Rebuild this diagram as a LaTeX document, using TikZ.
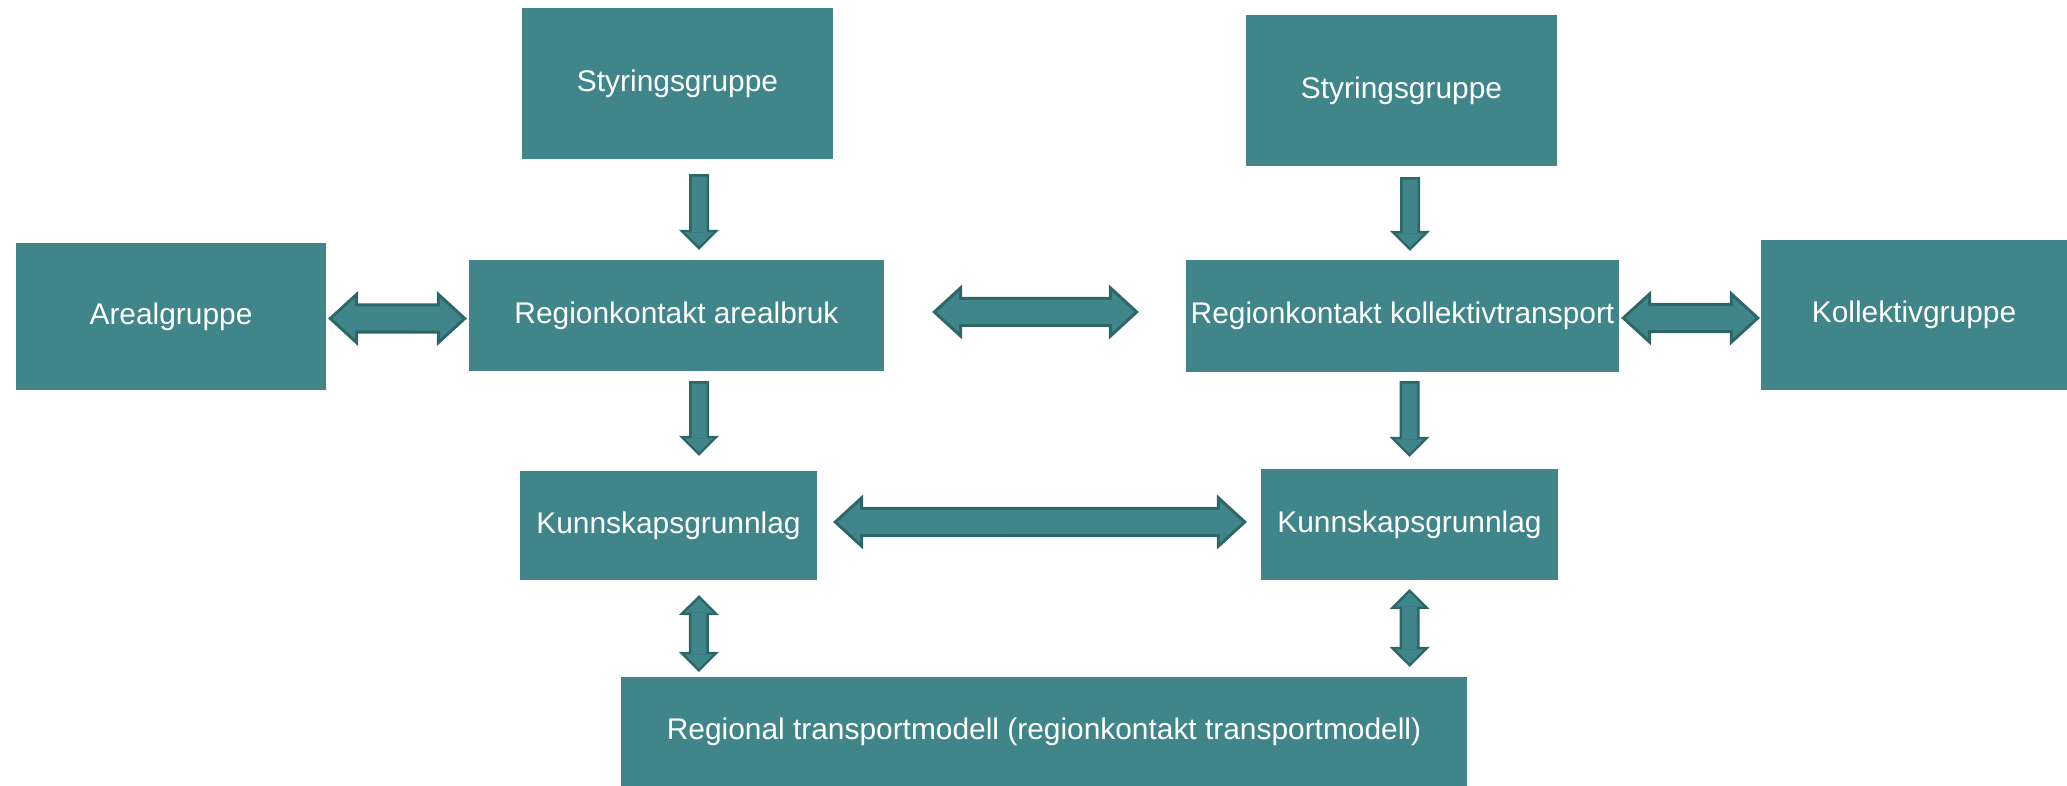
\documentclass[tikz,border=0pt]{standalone}
\usepackage{fontspec}
\setmainfont{Liberation Sans}
\usetikzlibrary{arrows.meta}
\definecolor{tealbox}{HTML}{408589}
\definecolor{tealdark}{HTML}{2D6669}

\begin{document}
\begin{tikzpicture}
        [x=0.01cm, y=-0.01cm,
        every node/.style={fill=tealbox, text=white, inner sep=0, outer sep=0, font=\fontsize{8.5}{10}\selectfont},
        hboth/.style={draw=tealdark, line width=0.30cm,
          {Triangle[width=0.55cm,length=0.30cm,line width=0pt]}-{Triangle[width=0.55cm,length=0.30cm,line width=0pt]},
          postaction={draw=tealbox, line width=0.24cm, shorten <=0.044cm, shorten >=0.044cm,
          {Triangle[width=0.41cm,length=0.226cm,line width=0pt]}-{Triangle[width=0.41cm,length=0.226cm,line width=0pt]}}},
        vone/.style={draw=tealdark, line width=0.20cm,
          -{Triangle[width=0.40cm,length=0.20cm,line width=0pt]},
          postaction={draw=tealbox, line width=0.15cm, shorten <=0.025cm, shorten >=0.035cm,
          -{Triangle[width=0.28cm,length=0.14cm,line width=0pt]}}},
        vboth/.style={draw=tealdark, line width=0.20cm,
          {Triangle[width=0.40cm,length=0.20cm,line width=0pt]}-{Triangle[width=0.40cm,length=0.20cm,line width=0pt]},
          postaction={draw=tealbox, line width=0.15cm, shorten <=0.035cm, shorten >=0.035cm,
          {Triangle[width=0.28cm,length=0.14cm,line width=0pt]}-{Triangle[width=0.28cm,length=0.14cm,line width=0pt]}}}]

        \useasboundingbox (0, 0) rectangle (2067, 786);

        \node[minimum width=3.11cm, minimum height=1.51cm] (styrL) at (677.5, 83.5) {Styringsgruppe};
        \node[minimum width=3.11cm, minimum height=1.51cm] (styrR) at (1401.5, 90.5) {Styringsgruppe};
        \node[minimum width=3.10cm, minimum height=1.47cm] (areal) at (171, 316.5) {Arealgruppe};
        \node[minimum width=4.15cm, minimum height=1.11cm] (rkAreal) at (676.5, 315.5) {Regionkontakt arealbruk};
        \node[minimum width=4.33cm, minimum height=1.12cm] (rkKoll) at (1402.5, 316) {Regionkontakt kollektivtransport};
        \node[minimum width=3.06cm, minimum height=1.50cm] (kollGr) at (1914, 315) {Kollektivgruppe};
        \node[minimum width=2.97cm, minimum height=1.09cm] (kunnL) at (668.5, 525.5) {Kunnskapsgrunnlag};
        \node[minimum width=2.97cm, minimum height=1.11cm] (kunnR) at (1409.5, 524.5) {Kunnskapsgrunnlag};
        \node[minimum width=8.46cm, minimum height=1.09cm] (rtm) at (1044, 731.5) {Regional transportmodell (regionkontakt transportmodell)};

        \draw[vone] ([xshift=0.215cm, yshift=-0.15cm]styrL.south) -- ([xshift=0.225cm, yshift=0.10cm]rkAreal.north);
        \draw[vone] ([xshift=0.225cm, yshift=-0.10cm]rkAreal.south) -- ([xshift=0.305cm, yshift=0.15cm]kunnL.north);
        \draw[vboth] ([xshift=0.305cm, yshift=-0.15cm]kunnL.south) -- ([xshift=-3.45cm, yshift=0.05cm]rtm.north);
        \draw[vone] ([xshift=0.085cm, yshift=-0.11cm]styrR.south) -- ([xshift=0.075cm, yshift=0.09cm]rkKoll.north);
        \draw[vone] ([xshift=0.07cm, yshift=-0.09cm]rkKoll.south) -- ([yshift=0.12cm]kunnR.north);
        \draw[vboth] ([yshift=-0.09cm]kunnR.south) -- ([xshift=3.655cm, yshift=0.10cm]rtm.north);
        \draw[hboth] ([xshift=0.02cm, yshift=-0.02cm]areal.east) -- ([xshift=-0.02cm, yshift=-0.03cm]rkAreal.west);
        \draw[hboth] ([xshift=0.48cm, yshift=0.035cm]rkAreal.east) -- ([xshift=-0.47cm, yshift=0.04cm]rkKoll.west);
        \draw[hboth] ([xshift=0.02cm, yshift=-0.02cm]rkKoll.east) -- ([xshift=-0.01cm, yshift=-0.03cm]kollGr.west);
        \draw[hboth] ([xshift=0.16cm, yshift=0.035cm]kunnL.east) -- ([xshift=-0.14cm, yshift=0.025cm]kunnR.west);

\end{tikzpicture}
\end{document}
